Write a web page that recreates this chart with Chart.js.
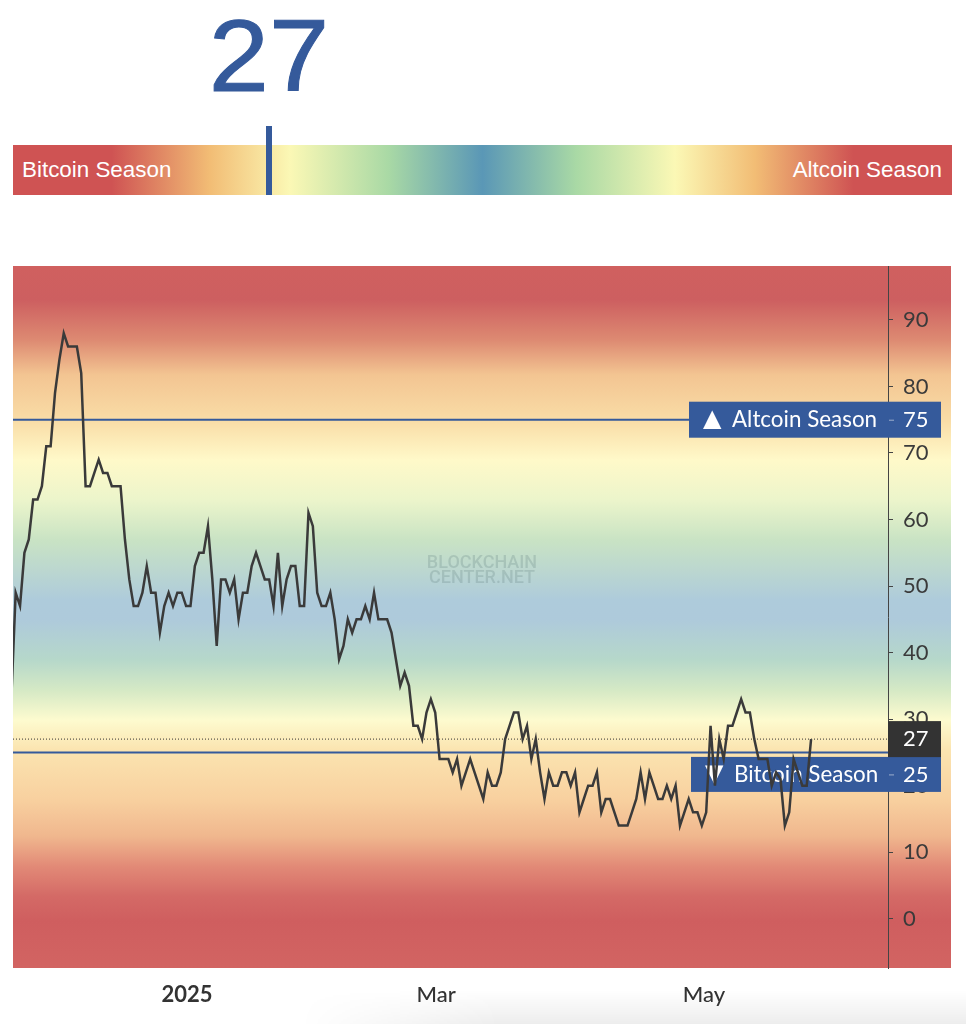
<!DOCTYPE html>
<html>
<head>
<meta charset="utf-8">
<style>
  html, body { margin: 0; padding: 0; background: #fff; }
  body { width: 966px; height: 1024px; position: relative; overflow: hidden; }
  #big-value { position: absolute; left: 169px; width: 200px; top: -2px; text-align: center; transform: scaleX(1.06);
    font: 102px/116px "Liberation Sans", sans-serif; color: #355a9b; -webkit-text-stroke: 1px #355a9b; }
  #gauge { position: absolute; left: 13px; top: 145px; width: 939px; height: 50px;
    background: linear-gradient(to right, #cf5353 0%, #cf5353 10.5%, #f2bd75 21%, #fbf8b5 29.5%, #a9d9a5 40%, #5a97b6 50%, #a9d9a5 60%, #fbf8b5 70.5%, #f2bd75 79%, #cf5353 89.5%, #cf5353 100%); }
  #marker { position: absolute; left: 266px; top: 126px; width: 6px; height: 69px; background: #355a9b; }
  .gauge-label { position: absolute; top: 157px; font: 22.4px/26px "Liberation Sans", sans-serif; color: #fff; }
  #page-shade { position: absolute; left: 300px; top: 990px; width: 666px; height: 34px;
    background: linear-gradient(to bottom, rgba(0,0,0,0), rgba(0,0,0,0.07));
    -webkit-mask-image: linear-gradient(to right, transparent, #000 30%); }
  #chart { position: absolute; left: 13px; top: 266px; }
</style>
</head>
<body>
<div id="big-value">27</div>
<div id="gauge"></div>
<div id="marker"></div>
<div class="gauge-label" style="left:22px">Bitcoin Season</div>
<div class="gauge-label" style="right:24px">Altcoin Season</div>
<div id="page-shade"></div>
<canvas id="chart" width="938" height="750"></canvas>
<script src="https://cdn.jsdelivr.net/npm/chart.js@4/dist/chart.umd.min.js"></script>
<script>
// altcoin season index, one value per day
const indexValues = [
  33, 49, 47, 55, 57, 63, 63, 65, 71, 71, 79, 84, 88, 86, 86, 86, 82, 65, 65, 67,
  69, 67, 67, 65, 65, 65, 57, 51, 47, 47, 49, 53, 49, 49, 43, 47, 49, 47, 49, 49,
  47, 47, 53, 55, 55, 59, 51, 41, 51, 51, 49, 51, 45, 49, 49, 53, 55, 53, 51, 51,
  47, 55, 47, 51, 53, 53, 47, 47, 61, 59, 49, 47, 47, 49, 45, 39, 41, 45, 43, 45,
  45, 47, 45, 49, 45, 45, 45, 43, 39, 35, 37, 35, 29, 29, 27, 31, 33, 31, 24, 24,
  24, 22, 24, 20, 22, 24, 22, 20, 18, 22, 20, 20, 22, 27, 29, 31, 31, 27, 29, 24,
  27, 22, 18, 22, 20, 20, 22, 22, 20, 22, 16, 18, 20, 20, 22, 16, 18, 18, 16, 14,
  14, 14, 16, 18, 22, 18, 22, 20, 18, 18, 20, 18, 20, 14, 16, 18, 16, 16, 14, 16,
  29, 20, 27, 24, 29, 29, 31, 33, 31, 31, 27, 24, 24, 24, 20, 22, 21, 14, 16, 24,
  22, 20, 20, 27
];
const yTickValues = [0, 10, 20, 30, 40, 50, 60, 70, 80, 90];
const xTickIndex = [40.2, 97.2, 158.5];
const xTickLabels = ['2025', 'Mar', 'May'];
const altcoinLevel = 75;
const bitcoinLevel = 25;
const currentValue = 27;

const X_MIN = 0.39, X_MAX = 200.6;
const BLUE = '#355a9b';
const TICK_FONT = 'Lato, sans-serif';

function levelLine(level, color, width, dash) {
    return {
        data: [{ x: X_MIN, y: level }, { x: X_MAX, y: level }],
        borderColor: color,
        borderWidth: width,
        borderDash: dash || [],
        pointRadius: 0
    };
}

function drawTag(ctx, left, right, cy, height, bg, text, marker, value, plotRight) {
    ctx.fillStyle = bg;
    ctx.fillRect(left, cy - height / 2, right - left, height);
    ctx.textBaseline = 'middle';
    ctx.textAlign = 'left';
    ctx.fillStyle = '#fff';
    if (marker) {
        ctx.font = '24px "DejaVu Sans"';
        ctx.fillText(marker, left + 14, cy);
        ctx.font = '22.4px ' + TICK_FONT;
        ctx.fillText(text, left + 43, cy);
        ctx.fillStyle = 'rgba(255,255,255,0.5)';
        ctx.fillRect(plotRight + 1, cy, 5, 1);
        ctx.fillStyle = '#fff';
    }
    ctx.font = '22px ' + TICK_FONT;
    ctx.fillText(value, plotRight + 15, cy);
}

// plot background runs under the axis too, so it can't be a chartArea fill
const backgroundPlugin = {
    id: 'plotBackground',
    beforeDraw(chart) {
        const { ctx, width, chartArea } = chart;
        const g = ctx.createLinearGradient(0, 0, 0, chartArea.bottom);
        const stops = [
            [0, '#d0605f'], [34, '#cd5f60'], [74, '#dd8a72'], [109, '#f3c592'], [154, '#f9dca6'],
            [194, '#fff9c9'], [234, '#ecf5cb'], [274, '#c9e3c4'], [334, '#aecbdb'], [354, '#aecadb'],
            [394, '#b6d8ca'], [424, '#d5e9c5'], [454, '#fdfbcf'], [484, '#fbe4b0'], [534, '#f8d09f'],
            [570, '#f0b78e'], [600, '#e28a77'], [630, '#d46a66'], [655, '#cf5e5f'], [702, '#d26462']
        ];
        stops.forEach(s => g.addColorStop(s[0] / 702, s[1]));
        ctx.save();
        ctx.fillStyle = g;
        ctx.fillRect(0, 0, width, chartArea.bottom);
        ctx.restore();
    }
};

const tagsPlugin = {
    id: 'levelTags',
    // dataset 0 is painted last, so the tags land over the level lines but under the index line
    beforeDatasetDraw(chart, args) {
        if (args.index !== 0) return;
        const { ctx, width, scales: { y }, chartArea } = chart;
        const r = chartArea.right;
        ctx.save();
        ctx.textBaseline = 'middle';
        ctx.textAlign = 'center';
        ctx.font = '500 18px Roboto, sans-serif';
        ctx.fillStyle = 'rgba(90,120,120,0.24)';
        ctx.fillText('BLOCKCHAIN', width / 2, 297);
        ctx.fillText('CENTER.NET', width / 2, 312);

        drawTag(ctx, 676, 928, y.getPixelForValue(altcoinLevel), 36, BLUE, 'Altcoin Season', '▲', String(altcoinLevel), r);
        drawTag(ctx, 678, 928, y.getPixelForValue(bitcoinLevel) + 22, 35, BLUE, 'Bitcoin Season', '▼', String(bitcoinLevel), r);
        drawTag(ctx, r, 928, y.getPixelForValue(currentValue), 36, '#333333', '', null, String(currentValue), r);
        ctx.restore();
    }
};

new Chart(document.getElementById('chart').getContext('2d'), {
    type: 'line',
    data: {
        datasets: [
            {
                data: indexValues.map((v, i) => ({ x: i, y: v })),
                borderColor: '#3a3a3a',
                borderWidth: 2.5,
                pointRadius: 0,
                tension: 0,
                borderJoinStyle: 'miter'
            },
            levelLine(altcoinLevel, BLUE, 2),
            levelLine(bitcoinLevel, BLUE, 2),
            levelLine(currentValue, '#333333', 1, [1, 2])
        ]
    },
    options: {
        responsive: false,
        animation: false,
        events: [],
        layout: { padding: 0 },
        plugins: { legend: { display: false }, tooltip: { enabled: false } },
        scales: {
            x: {
                type: 'linear',
                min: X_MIN,
                max: X_MAX,
                grid: { display: false },
                border: { display: false },
                afterBuildTicks: scale => { scale.ticks = xTickIndex.map(value => ({ value })); },
                afterFit: scale => {
                    scale.height = 48;
                    scale.paddingLeft = 0;
                    scale.paddingRight = 0;
                },
                ticks: {
                    autoSkip: false,
                    maxRotation: 0,
                    padding: 6,
                    color: '#333',
                    font: ctx => ({ family: TICK_FONT, size: 22, weight: ctx.index === 0 ? 'bold' : '500' }),
                    callback: value => xTickLabels[xTickIndex.indexOf(value)]
                }
            },
            y: {
                position: 'right',
                min: -7.4,
                max: 98.1,
                border: { display: true, color: '#444', width: 1 },
                grid: { drawOnChartArea: false, tickLength: 5, tickColor: '#444', tickWidth: 1 },
                afterBuildTicks: scale => { scale.ticks = yTickValues.map(value => ({ value })); },
                afterFit: scale => {
                    scale.width = 63;
                    scale.paddingTop = 0;
                    scale.paddingBottom = 0;
                },
                ticks: {
                    padding: 10,
                    color: '#3a3a3a',
                    font: { family: TICK_FONT, size: 22 },
                    callback: value => String(value)
                }
            }
        }
    },
    plugins: [backgroundPlugin, tagsPlugin]
});
</script>
</body>
</html>
